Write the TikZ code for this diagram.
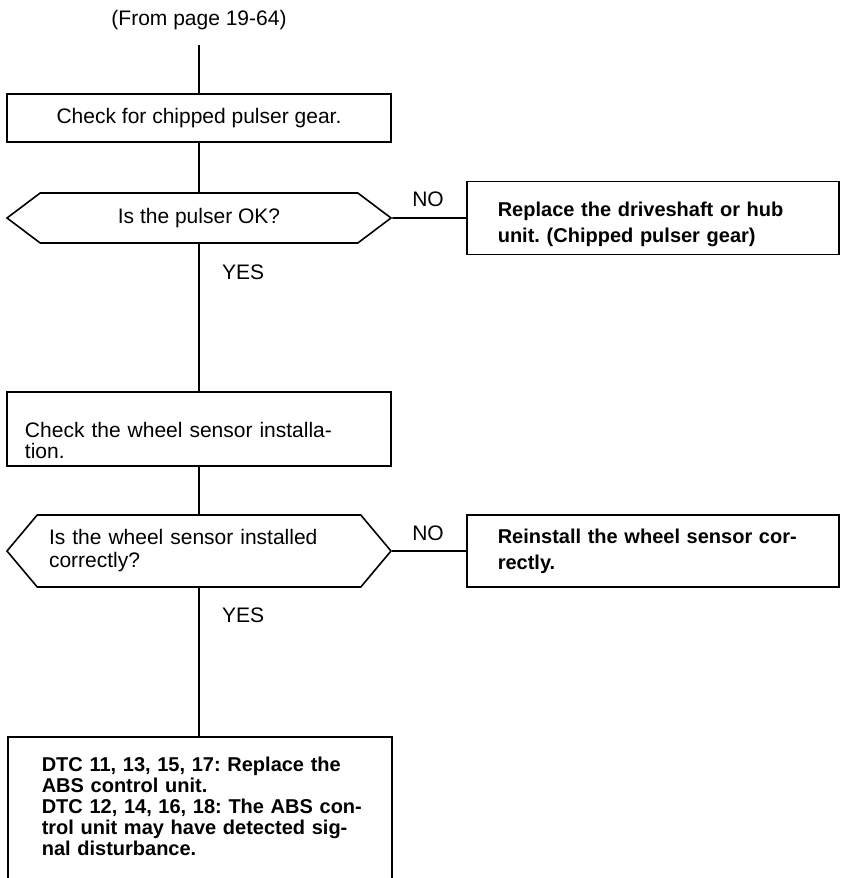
\documentclass[tikz,border=0pt]{standalone}
\usepackage{fontspec}
\setmainfont{Liberation Sans}
\usetikzlibrary{shapes.symbols}
\frenchspacing

\newcommand{\stretchline}[2]{\makebox[#1][s]{#2}}

\tikzset{
  flow/.style={line width=0.8pt},
  stepbox/.style={draw, line width=0.8pt, rectangle, minimum width=192pt, inner xsep=9pt,
    font=\fontsize{10.5}{10.5}\selectfont},
  decision/.style={draw, line width=0.8pt, signal, signal to=west and east,
    minimum width=192pt, font=\fontsize{10.5}{11.5}\selectfont},
  fixbox/.style={draw, line width=0.8pt, rectangle, text width=155pt, inner xsep=15.5pt,
    align=left, font=\bfseries\fontsize{10}{13}\selectfont},
  answer/.style={font=\fontsize{10.5}{12}\selectfont}
}

\begin{document}
\begin{tikzpicture}[x=0.5pt, y=-0.5pt]
  \useasboundingbox (0,0) rectangle (841,878);

  % pulser gear
  \node[answer] (from) at (199,20) {(From page 19-64)};
  \coordinate (start) at (199,45);
  \node[stepbox, minimum height=24pt] (chkgear) at (199,118) {Check for chipped pulser gear.};
  \node[decision, minimum height=25pt, signal pointer angle=74] (okgear) at (199,218) {Is the pulser OK?};
  \node[fixbox, anchor=west, minimum height=36.5pt, text height=12pt, text depth=14pt] (fixgear) at (466,218)
    {\stretchline{155pt}{Replace the driveshaft or hub}\\unit. (Chipped pulser gear)};
  \node[answer] (nogear) at (428,199) {NO};
  \node[answer, anchor=west] (yesgear) at (215,272) {YES};

  % wheel sensor
  \node[stepbox, text width=174pt, align=left, minimum height=37pt, inner ysep=3pt,
    text height=19.5pt, text depth=11.5pt] (chksensor) at (199,429)
    {\stretchline{165pt}{Check the wheel sensor installa-}\\tion.};
  \node[decision, text width=150pt, align=left, minimum height=36pt, signal pointer angle=100] (oksensor) at (199,551)
    {\stretchline{144pt}{Is the wheel sensor installed}\\correctly?};
  \node[fixbox, anchor=west, minimum height=36pt] (fixsensor) at (466,551)
    {\stretchline{155pt}{Reinstall the wheel sensor cor-}\\rectly.};
  \node[answer] (nosensor) at (428,533) {NO};
  \node[answer, anchor=west] (yessensor) at (215,615) {YES};

  % control unit
  \node[fixbox, text width=158pt, inner xsep=17pt, inner ysep=10pt, text depth=90pt, anchor=north west,
    font=\bfseries\fontsize{10}{10.5}\selectfont] (fixunit) at (7,736)
    {\stretchline{158pt}{DTC 11, 13, 15, 17: Replace the}\\ABS control unit.\\
     \stretchline{158pt}{DTC 12, 14, 16, 18: The ABS con-}\\
     \stretchline{158pt}{trol unit may have detected sig-}\\nal disturbance.};

  \draw[flow] (start) -- (chkgear);
  \draw[flow] (chkgear) -- (okgear);
  \draw[flow] (okgear) -- (okgear -| fixgear.west);
  \draw[flow] (okgear) -- (chksensor);
  \draw[flow] (chksensor) -- (oksensor);
  \draw[flow] (oksensor) -- (oksensor -| fixsensor.west);
  \draw[flow] (oksensor) -- (oksensor |- fixunit.north);
\end{tikzpicture}
\end{document}
